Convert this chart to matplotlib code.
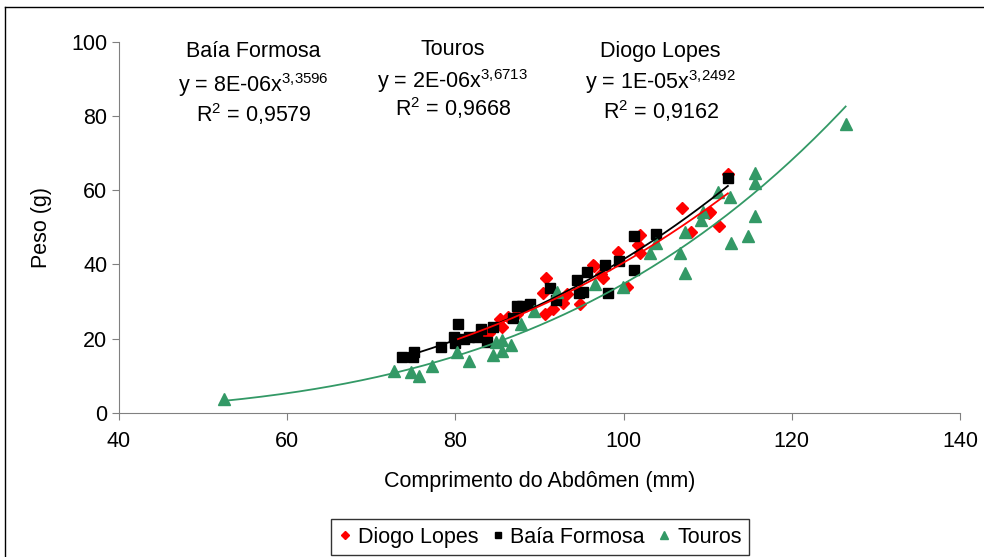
import numpy as np
import matplotlib
matplotlib.use("Agg")
import matplotlib.pyplot as plt
from matplotlib.lines import Line2D

plt.rcParams['font.family'] = ['Liberation Sans', 'DejaVu Sans']
plt.rcParams['mathtext.default'] = 'regular'

# Diogo Lopes
dl_x = [80.3, 83.3, 84.0, 85.3, 85.5, 86.3, 87.3, 90.8, 90.4, 90.6, 91.6, 92.8, 93.3,
        94.8, 96.5, 97.3, 97.5, 96.4, 99.3, 100.4, 101.7, 102.0, 102.0, 107.0, 108.0,
        110.1, 110.3, 111.3, 112.4]
dl_y = [20.0, 21.3, 21.5, 25.3, 23.2, 25.8, 26.6, 36.3, 32.2, 26.7, 27.9, 29.7, 32.0,
        29.2, 39.6, 37.5, 36.2, 39.8, 43.2, 33.9, 45.2, 47.9, 43.0, 55.3, 48.6,
        53.8, 54.2, 50.4, 64.3]

# Baía Formosa
bf_x = [73.6, 74.9, 75.1, 78.3, 79.8, 80.3, 79.9, 81.0, 81.6, 82.6, 83.0, 83.8, 84.5,
        86.9, 87.3, 87.9, 88.9, 91.3, 92.0, 94.4, 94.7, 95.2, 95.6, 97.8, 98.1, 99.4,
        101.2, 101.2, 103.9, 112.4]
bf_y = [15.0, 15.0, 16.4, 17.7, 20.5, 23.8, 18.8, 20.0, 20.3, 20.4, 22.6, 19.1, 23.2,
        25.5, 28.8, 28.7, 29.3, 33.6, 30.5, 35.8, 32.4, 32.6, 37.9, 39.8, 32.4, 40.8,
        47.6, 38.4, 48.1, 63.3]

# Touros
to_x = [52.5, 72.7, 74.7, 75.7, 77.2, 80.2, 81.6, 84.5, 84.8, 85.5, 85.5, 86.6, 87.8,
        89.4, 92.1, 96.6, 99.9, 103.1, 103.8, 106.7, 107.3, 107.3, 109.2, 109.4, 111.2,
        112.7, 112.8, 114.8, 115.6, 115.6, 115.6, 126.4]
to_y = [3.8, 11.2, 10.9, 9.8, 12.5, 16.5, 14.0, 15.5, 19.0, 19.5, 16.6, 18.2, 23.8,
        27.4, 32.6, 34.6, 34.0, 43.0, 45.7, 43.0, 37.6, 48.8, 52.0, 54.0, 59.5,
        58.1, 45.7, 47.5, 64.7, 62.0, 52.9, 77.7]

labels = ["Diogo Lopes", "Baía Formosa", "Touros"]
red = "#FF0000"
green = "#339966"

fig = plt.figure(figsize=(9.84, 5.57), dpi=100)
ax = fig.add_axes([119/984, 1-412.8/557, (960-119)/984, (412.8-41.6)/557])


def power_fit(x, y):
    # power trendline like Excel: fit in log space
    b, la = np.polyfit(np.log(x), np.log(y), 1)
    xs = np.linspace(min(x), max(x), 200)
    return xs, np.exp(la) * xs ** b


ax.plot(dl_x, dl_y, 'D', color=red, ms=6.5, mec=red, label=labels[0], zorder=3)
ax.plot(bf_x, bf_y, 's', color='black', ms=7, label=labels[1], zorder=3)
ax.plot(to_x, to_y, '^', color=green, ms=8, label=labels[2], zorder=3)

xs, ys = power_fit(to_x, to_y)
ax.plot(xs, ys, color=green, lw=1.3, zorder=4)
xs, ys = power_fit(bf_x, bf_y)
ax.plot(xs, ys, color='black', lw=1.3, zorder=4)
xs, ys = power_fit(dl_x, dl_y)
ax.plot(xs, ys, color=red, lw=1.3, zorder=4)

ax.set_xlim(40, 140)
ax.set_ylim(0, 100)
ax.set_xticks([40, 60, 80, 100, 120, 140])
ax.set_yticks([0, 20, 40, 60, 80, 100])
for s in ['top', 'right']:
    ax.spines[s].set_visible(False)
for s in ['left', 'bottom']:
    ax.spines[s].set_color('#808080')
fs = 15.5
ax.tick_params(colors='#808080', labelcolor='black', labelsize=fs, length=5)
ax.tick_params(axis='x', pad=8)

ax.set_xlabel("Comprimento do Abdômen (mm)", fontsize=fs, labelpad=14)
ax.set_ylabel("Peso (g)", fontsize=fs, labelpad=14)

# equation annotations
ax.text(56.0, 97.2, "Baía Formosa", ha='center', va='center', fontsize=fs)
ax.text(56.0, 88.2, "y = 8E-06x$^{3{,}3596}$", ha='center', va='center', fontsize=fs)
ax.text(56.0, 80.6, "R$^{2}$ = 0,9579", ha='center', va='center', fontsize=fs)
ax.text(79.7, 97.9, "Touros", ha='center', va='center', fontsize=fs)
ax.text(79.7, 89.4, "y = 2E-06x$^{3{,}6713}$", ha='center', va='center', fontsize=fs)
ax.text(79.7, 82.2, "R$^{2}$ = 0,9668", ha='center', va='center', fontsize=fs)
ax.text(104.4, 97.4, "Diogo Lopes", ha='center', va='center', fontsize=fs)
ax.text(104.4, 89.2, "y = 1E-05x$^{3{,}2492}$", ha='center', va='center', fontsize=fs)
ax.text(104.4, 81.4, "R$^{2}$ = 0,9162", ha='center', va='center', fontsize=fs)

leg = fig.legend(loc='upper center', bbox_to_anchor=(540/984, 1-519/557), ncol=3,
                 fontsize=fs, frameon=True, fancybox=False, edgecolor='black',
                 handlelength=0.6, handletextpad=0.3, columnspacing=0.6,
                 markerscale=0.7, borderpad=0.35, borderaxespad=0)
leg.get_frame().set_linewidth(1.0)

# outer chart border
fig.add_artist(Line2D([5/984, 1.0], [1-7/557, 1-7/557], color='black', lw=1))
fig.add_artist(Line2D([5/984, 5/984], [0, 1-7/557], color='black', lw=1))

fig.savefig("out.png", dpi=100)
